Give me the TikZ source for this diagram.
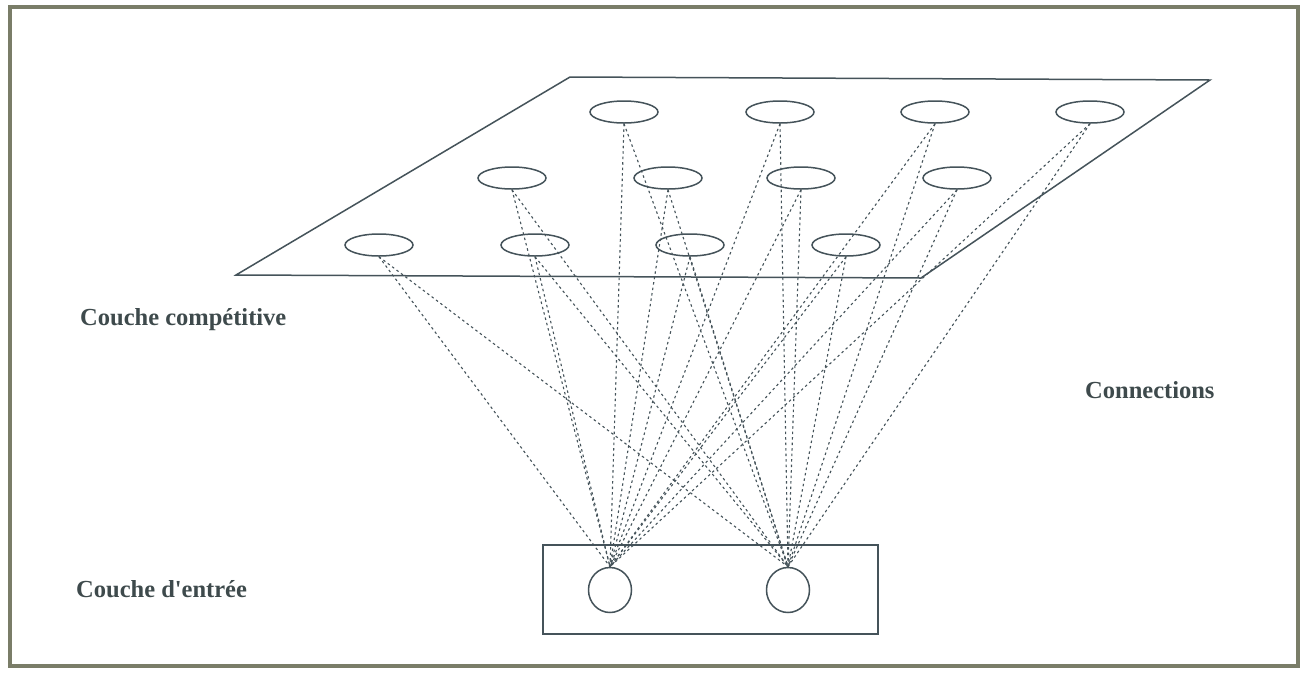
\documentclass[tikz,border=0pt]{standalone}
\usepackage{fontspec}
\setmainfont{Liberation Serif}[Ligatures=TeXOff]
\usetikzlibrary{shapes.geometric}
\begin{document}
\begin{tikzpicture}[x=1pt,y=-1pt,
  shape line/.style={draw=linecol, line width=1.5pt},
  neuron/.style={shape line, ellipse, minimum width=68pt, minimum height=22pt, inner sep=0pt},
  inneuron/.style={shape line, ellipse, minimum width=43pt, minimum height=45pt, inner sep=0pt},
  conn/.style={draw=linecol, line width=1.1pt, dash pattern=on 2.5pt off 3pt},
  lab/.style={anchor=base west, inner sep=0pt, text=labcol, font=\fontsize{24.5}{28}\selectfont\bfseries}
]
\definecolor{linecol}{HTML}{45535A}
\definecolor{labcol}{HTML}{3E4A4C}
\definecolor{framecol}{HTML}{7A7D68}
\useasboundingbox (0,0) rectangle (1304,673);
\fill[white] (0,0) rectangle (1304,673);
\draw[framecol, line width=3.5pt] (10,7) rectangle (1298,666);

% competitive plane
\draw[shape line] (570,77) -- (1210,80) -- (921,278) -- (236,275) -- cycle;

% competitive neurons
\node[neuron] (a1) at (624,112) {};
\node[neuron] (a2) at (780,112) {};
\node[neuron] (a3) at (935,112) {};
\node[neuron] (a4) at (1090,112) {};
\node[neuron] (b1) at (512,178) {};
\node[neuron] (b2) at (668,178) {};
\node[neuron] (b3) at (801,178) {};
\node[neuron] (b4) at (957,178) {};
\node[neuron] (c1) at (379,245) {};
\node[neuron] (c2) at (535,245) {};
\node[neuron] (c3) at (690,245) {};
\node[neuron] (c4) at (846,245) {};

% input layer
\draw[shape line] (543,545) rectangle (878,634);
\node[inneuron] (i1) at (610,590) {};
\node[inneuron] (i2) at (788,590) {};

% connections
\foreach \n in {a1,a2,a3,a4,b1,b2,b3,b4,c1,c2,c3,c4}{
  \draw[conn] (\n.south) -- (i1.north);
  \draw[conn] (\n.south) -- (i2.north);
}

% labels
\node[lab] (lc) at (80,325) {Couche compétitive};
\node[lab] (le) at (76,597) {Couche d'entrée};
\node[lab] (lx) at (1085,398) {Connections};
\end{tikzpicture}
\end{document}
